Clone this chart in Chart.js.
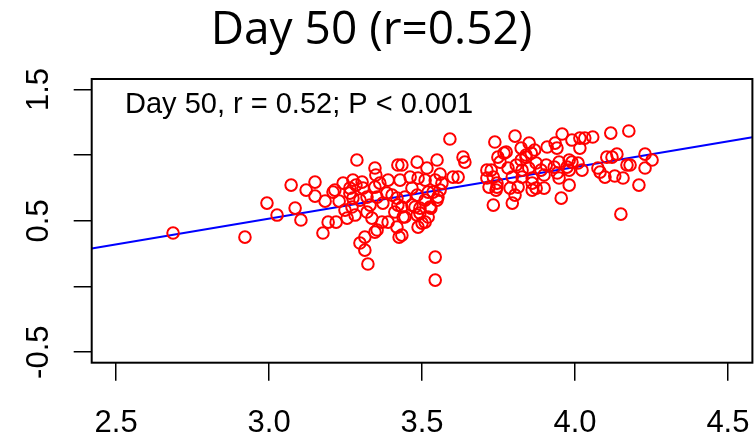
<!DOCTYPE html>
<html>
<head>
<meta charset="utf-8">
<script src="https://cdn.jsdelivr.net/npm/chart.js@4"></script>
<style>
  body { margin: 0; background: #fff; }
  canvas { display: block; }
</style>
</head>
<body>
<canvas id="chart" width="755" height="439"></canvas>
<script>
// Day 50 values
const dayX = [
  2.686, 2.921, 2.993, 3.026, 3.072, 3.085, 3.104, 3.121, 3.150, 3.150,
  3.183, 3.176, 3.193, 3.215, 3.219, 3.229, 3.242, 3.248, 3.255, 3.274,
  3.264, 3.274, 3.271, 3.281, 3.287, 3.304, 3.307, 3.320, 3.297, 3.313,
  3.313, 3.323, 3.346, 3.320, 3.346, 3.349, 3.346, 3.362, 3.353, 3.369,
  3.389, 3.385, 3.389, 3.418, 3.421, 3.421, 3.425, 3.418, 3.428, 3.438,
  3.461, 3.467, 3.477, 3.484, 3.487, 3.487, 3.493, 3.510, 3.516, 3.510,
  3.520, 3.520, 3.526, 3.536, 3.543, 3.549, 3.552, 3.559, 3.565, 3.543,
  3.543, 3.591, 3.601, 3.618, 3.634, 3.640, 3.444, 3.484, 3.510, 3.549,
  3.434, 3.467, 3.493, 3.529, 3.444, 3.484, 3.500, 3.434, 3.559, 3.434,
  3.264, 3.284, 3.297, 3.330, 3.336, 3.353, 3.372, 3.402, 3.411, 3.209,
  3.738, 3.804, 3.748, 3.775, 3.824, 3.850, 3.868, 3.712, 3.712, 3.755,
  3.781, 3.808, 3.824, 3.840, 3.857, 3.827, 3.849, 3.795, 3.827, 3.860,
  3.745, 3.788, 3.814, 3.860, 3.873, 3.899, 3.733, 3.795, 3.958, 3.909,
  3.935, 3.941, 3.990, 4.016, 4.032, 4.058, 4.016, 4.117, 4.176, 3.873,
  3.906, 3.932, 3.948, 3.981, 3.974, 3.948, 3.981, 3.955, 4.010, 4.023,
  4.075, 4.082, 4.098, 4.104, 4.121, 4.137, 4.130, 4.157, 4.170, 4.180,
  4.229, 4.252, 4.229, 4.209, 4.150, 3.768, 3.840, 3.742, 3.719, 3.860,
  3.942, 3.981, 3.990, 3.726, 3.745, 3.889, 3.899, 3.804, 3.733
];
const dayY = [
  0.407, 0.376, 0.635, 0.544, 0.772, 0.597, 0.506, 0.734, 0.795, 0.688,
  0.650, 0.407, 0.490, 0.734, 0.490, 0.650, 0.787, 0.582, 0.521, 0.810,
  0.711, 0.673, 0.605, 0.544, 0.963, 0.795, 0.749, 0.681, 0.331, 0.376,
  0.277, 0.171, 0.414, 0.567, 0.902, 0.849, 0.757, 0.787, 0.681, 0.490,
  0.810, 0.711, 0.490, 0.673, 0.925, 0.620, 0.376, 0.452, 0.810, 0.529,
  0.833, 0.749, 0.605, 0.947, 0.825, 0.452, 0.559, 0.810, 0.902, 0.490,
  0.719, 0.529, 0.605, 0.719, 0.810, 0.963, 0.681, 0.856, 0.787, 0.224,
  0.049, 1.123, 0.833, 0.833, 0.985, 0.947, 0.681, 0.696, 0.658, 0.658,
  0.605, 0.620, 0.597, 0.597, 0.529, 0.544, 0.483, 0.391, 0.734, 0.925,
  0.749, 0.772, 0.658, 0.620, 0.521, 0.430, 0.635, 0.696, 0.567, 0.719,
  1.100, 1.145, 0.985, 1.024, 1.054, 1.092, 1.039, 0.886, 0.826, 0.947,
  0.902, 0.925, 0.963, 1.001, 1.016, 0.886, 0.902, 0.833, 0.833, 0.826,
  0.757, 0.749, 0.757, 0.787, 0.749, 0.749, 0.620, 0.635, 1.161, 1.062,
  1.092, 1.054, 1.115, 1.130, 1.130, 1.138, 1.054, 1.168, 1.184, 0.940,
  0.925, 0.909, 0.947, 0.963, 0.909, 0.826, 0.772, 0.673, 0.940, 0.886,
  0.902, 0.871, 0.833, 0.985, 0.985, 1.008, 0.841, 0.826, 0.925, 0.925,
  1.008, 0.963, 0.902, 0.772, 0.551, 1.016, 0.985, 0.734, 0.757, 0.734,
  0.864, 0.886, 0.947, 0.886, 0.787, 0.886, 0.849, 0.696, 0.833
];

// fitted line, ends at the plot edges
const fitX = [2.42, 4.58];
const fitY = [0.290, 1.136];

const xTicks = [2.5, 3.0, 3.5, 4.0, 4.5];
const yTicks = [-0.5, 0, 0.5, 1.0, 1.5];
const yLabels = [-0.5, 0.5, 1.5];

const titleText = 'Day 50 (r=0.52)';
const noteText = 'Day 50, r = 0.52; P < 0.001';

const points = dayX.map((x, i) => ({ x: x, y: dayY[i] }));
const fitLine = fitX.map((x, i) => ({ x: x, y: fitY[i] }));

// R style box, rotated y labels and the texts
const rStyle = {
  id: 'rStyle',
  afterDraw(chart) {
    const ctx = chart.ctx;
    const a = chart.chartArea;
    const ys = chart.scales.y;
    ctx.save();
    ctx.strokeStyle = '#000';
    ctx.lineWidth = 2;
    ctx.strokeRect(a.left, a.top, a.right - a.left, a.bottom - a.top);

    ctx.fillStyle = '#000';
    ctx.font = '31px "Liberation Sans", Arial, sans-serif';
    ctx.textAlign = 'center';
    ctx.textBaseline = 'alphabetic';
    yLabels.forEach(v => {
      const py = ys.getPixelForValue(v);
      ctx.save();
      ctx.translate(48, py);
      ctx.rotate(-Math.PI / 2);
      ctx.fillText(v.toFixed(1), 0, 0);
      ctx.restore();
    });

    ctx.textAlign = 'left';
    ctx.font = '29px "Liberation Sans", Arial, sans-serif';
    ctx.fillText(noteText, 125, 113);

    ctx.textAlign = 'center';
    ctx.font = '46px "Open Sans", "Noto Sans", sans-serif';
    ctx.fillText(titleText, 371.5, 44);
    ctx.restore();
  }
};

new Chart(document.getElementById('chart'), {
  type: 'scatter',
  data: {
    datasets: [{
      data: points,
      pointStyle: 'circle',
      pointRadius: 5.8,
      pointBorderWidth: 2,
      pointBorderColor: '#ff0000',
      pointBackgroundColor: 'rgba(0,0,0,0)',
      showLine: false
    }, {
      type: 'line',
      data: fitLine,
      borderColor: '#0000ff',
      borderWidth: 2,
      pointRadius: 0,
      fill: false
    }]
  },
  options: {
    responsive: false,
    animation: false,
    devicePixelRatio: 1,
    events: [],
    layout: { autoPadding: false, padding: { top: 79, right: 2.6, left: 0, bottom: 0 } },
    plugins: {
      legend: { display: false },
      title: { display: false },
      tooltip: { enabled: false }
    },
    scales: {
      x: {
        type: 'linear',
        min: 2.42,
        max: 4.58,
        afterBuildTicks: s => { s.ticks = xTicks.map(v => ({ value: v })); },
        afterFit: s => { s.height = 76.3; s.paddingLeft = 0; s.paddingRight = 0; },
        border: { display: false },
        grid: { drawOnChartArea: false, drawTicks: true, tickLength: 18, color: '#000', lineWidth: 1.5 },
        ticks: {
          padding: 24,
          color: '#000',
          font: { family: '"Liberation Sans", Arial, sans-serif', size: 31 },
          maxRotation: 0,
          callback: v => v.toFixed(1)
        }
      },
      y: {
        type: 'linear',
        min: -0.58,
        max: 1.58,
        afterBuildTicks: s => { s.ticks = yTicks.map(v => ({ value: v })); },
        afterFit: s => { s.width = 91.7; s.paddingTop = 0; s.paddingBottom = 0; },
        border: { display: false },
        grid: { drawOnChartArea: false, drawTicks: true, tickLength: 18, color: '#000', lineWidth: 1.5 },
        ticks: { display: false }
      }
    }
  },
  plugins: [rStyle]
});
</script>
</body>
</html>
